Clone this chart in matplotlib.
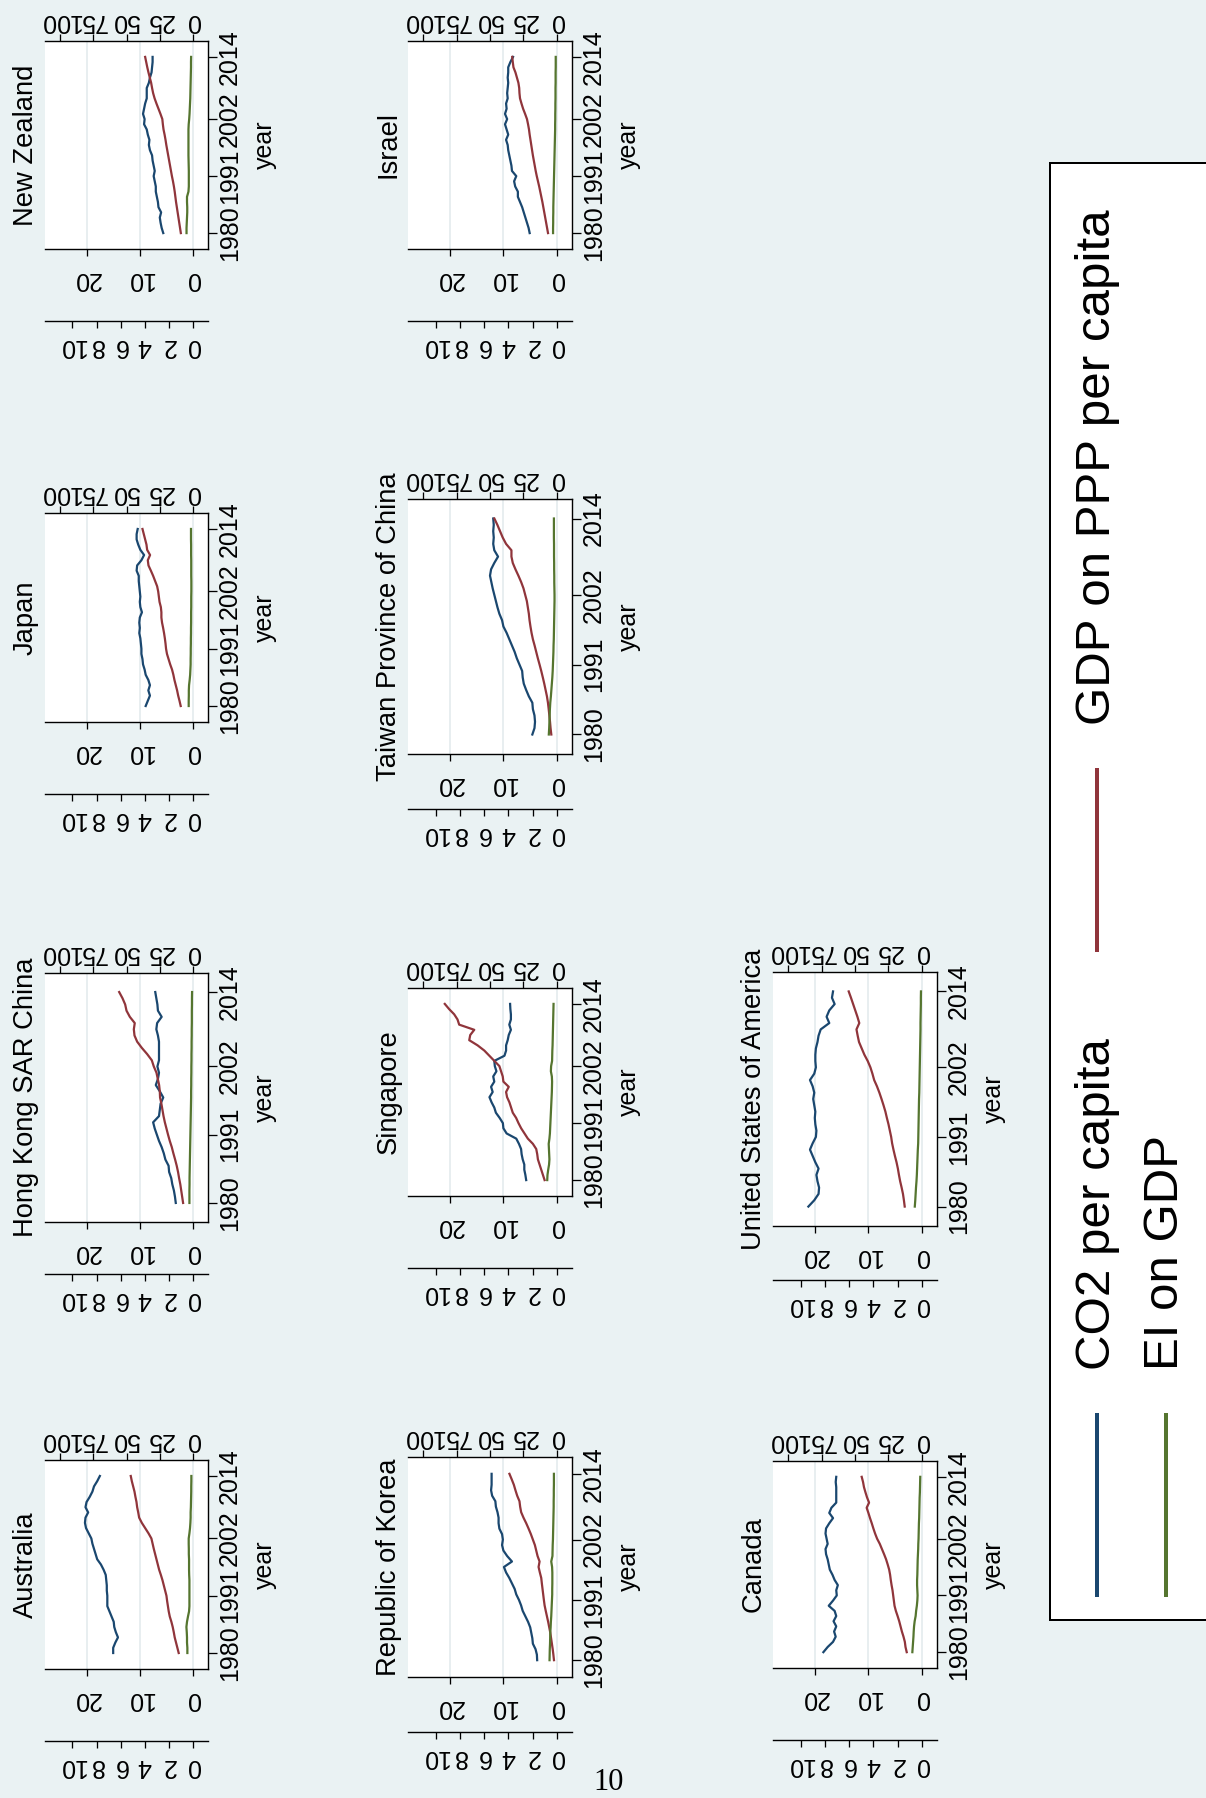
import matplotlib
matplotlib.use('Agg')
import matplotlib.pyplot as plt
from matplotlib.patches import Rectangle

W, H, DPI = 1206, 1798, 100
PX = 72.0 / DPI   # points per pixel

years = list(range(1980, 2015))
year_ticks = [1980, 1991, 2002, 2014]
co2_ticks = [0, 10, 20]
gdp_ticks = [0, 25, 50, 75, 100]
ei_ticks = [0, 2, 4, 6, 8, 10]

# ---- data, 1980..2014 ----
co2_australia = [15.0, 15.0, 14.6, 14.1, 14.5, 14.8, 14.9, 15.3, 15.7, 16.1, 16.1, 16.1, 16.2, 16.2, 16.3, 16.4, 16.8, 17.3, 18.0, 18.3,
                 18.6, 18.9, 19.1, 19.6, 20.1, 20.3, 20.2, 19.7, 20.2, 20.0, 19.4, 18.9, 18.6, 18.0, 17.5]
gdp_australia = [10.8, 11.8, 12.8, 13.8, 14.5, 15.3, 16.3, 17.5, 18.3, 18.9, 19.5, 20.0, 21.0, 22.0, 23.0, 24.2, 25.5, 26.5, 27.5, 28.5,
                 29.5, 30.4, 31.3, 33.5, 36.0, 38.5, 40.5, 41.2, 42.0, 42.5, 43.3, 44.0, 45.0, 46.0, 46.8]
ei_australia = [0.47, 0.47, 0.5, 0.5, 0.52, 0.55, 0.5, 0.42, 0.33, 0.3, 0.3, 0.3, 0.3, 0.3, 0.3, 0.32, 0.33, 0.33, 0.33, 0.35,
                0.35, 0.36, 0.36, 0.3, 0.25, 0.22, 0.2, 0.2, 0.18, 0.17, 0.16, 0.15, 0.15, 0.14, 0.14]

co2_hongkong = [3.25, 3.4, 3.6, 3.9, 4.1, 4.5, 4.6, 5.2, 5.5, 5.9, 6.4, 6.8, 7.2, 7.5, 6.4, 6.25, 6.1, 5.6, 6.25, 7.0,
                6.6, 6.4, 6.7, 6.4, 6.4, 6.4, 6.4, 6.6, 6.9, 6.75, 5.9, 6.6, 6.7, 6.9, 7.1]
gdp_hongkong = [7.5, 8.2, 8.9, 9.6, 10.5, 11.3, 12.3, 13.5, 14.8, 16.0, 17.5, 18.8, 20.0, 21.2, 22.2, 23.0, 23.8, 24.8, 25.0, 25.5,
                26.5, 27.5, 29.5, 31.0, 34.5, 38.5, 42.0, 44.0, 44.5, 43.8, 47.5, 50.0, 51.0, 53.0, 55.5]
ei_hongkong = [0.3, 0.3, 0.3, 0.29, 0.29, 0.28, 0.27, 0.26, 0.25, 0.24, 0.23, 0.22, 0.21, 0.2, 0.19, 0.18, 0.17, 0.16, 0.16, 0.15,
               0.15, 0.14, 0.14, 0.13, 0.13, 0.12, 0.12, 0.11, 0.11, 0.1, 0.1, 0.1, 0.09, 0.09, 0.08]

co2_japan = [8.9, 8.5, 8.1, 8.4, 8.1, 8.4, 8.9, 9.1, 9.4, 9.5, 9.7, 9.7, 9.8, 9.9, 10.1, 10.0, 10.1, 10.0, 9.6, 9.9,
             10.0, 9.9, 10.0, 10.1, 10.2, 10.2, 10.6, 10.5, 9.7, 9.2, 9.9, 10.3, 10.6, 10.6, 10.4]
gdp_japan = [9.3, 10.2, 11.2, 12.0, 13.0, 14.0, 14.8, 15.8, 17.2, 18.4, 19.6, 20.3, 20.7, 21.2, 21.8, 22.5, 23.3, 23.8, 23.8, 24.2,
             25.2, 25.7, 26.2, 27.0, 28.5, 30.0, 31.7, 33.5, 34.0, 32.3, 34.5, 35.0, 36.0, 37.0, 38.0]
ei_japan = [0.36, 0.36, 0.35, 0.35, 0.33, 0.28, 0.24, 0.22, 0.2, 0.2, 0.19, 0.19, 0.18, 0.18, 0.17, 0.17, 0.16, 0.16, 0.16, 0.15,
            0.15, 0.15, 0.14, 0.14, 0.14, 0.15, 0.15, 0.15, 0.15, 0.16, 0.16, 0.16, 0.17, 0.17, 0.17]

co2_nz = [5.6, 5.9, 6.1, 6.25, 6.0, 6.5, 6.6, 6.8, 7.0, 7.0, 7.2, 7.4, 7.2, 7.4, 7.6, 7.7, 8.1, 8.3, 8.2, 8.5,
          8.7, 9.2, 9.1, 9.4, 9.2, 9.0, 8.7, 8.7, 8.7, 8.3, 8.1, 7.8, 7.7, 7.6, 7.6]
gdp_nz = [9.2, 9.8, 10.4, 11.0, 11.6, 12.2, 12.8, 13.3, 13.8, 14.4, 15.1, 15.9, 16.6, 17.3, 18.0, 18.7, 19.4, 20.1, 20.7, 21.4,
          22.2, 22.7, 23.1, 24.5, 26.0, 27.5, 28.9, 30.0, 30.8, 31.5, 32.5, 33.5, 34.4, 35.2, 36.0]
ei_nz = [0.54, 0.54, 0.52, 0.5, 0.48, 0.48, 0.5, 0.5, 0.38, 0.35, 0.35, 0.35, 0.35, 0.36, 0.37, 0.38, 0.38, 0.38, 0.38, 0.38,
         0.38, 0.36, 0.32, 0.29, 0.27, 0.25, 0.23, 0.22, 0.21, 0.2, 0.19, 0.18, 0.17, 0.17, 0.16]

co2_korea = [3.7, 3.75, 4.0, 4.5, 4.6, 4.8, 5.0, 5.4, 5.9, 6.4, 6.7, 7.1, 7.6, 7.9, 8.4, 8.9, 9.5, 9.9, 8.4, 9.3,
             10.0, 10.25, 10.1, 10.25, 10.75, 10.9, 10.9, 11.1, 11.4, 11.5, 12.1, 12.3, 12.2, 12.2, 12.2]
gdp_korea = [2.25, 2.7, 3.2, 3.8, 4.4, 5.0, 5.8, 6.6, 7.5, 8.4, 9.25, 9.8, 10.3, 10.8, 11.3, 11.75, 12.8, 13.75, 13.0, 14.5,
             15.5, 16.5, 18.0, 19.5, 21.2, 23.0, 25.0, 26.75, 27.5, 28.0, 29.7, 31.0, 32.2, 33.8, 35.5]
ei_korea = [0.61, 0.6, 0.59, 0.57, 0.56, 0.55, 0.52, 0.5, 0.47, 0.45, 0.43, 0.41, 0.39, 0.39, 0.38, 0.38, 0.38, 0.4, 0.47, 0.37,
            0.36, 0.35, 0.33, 0.32, 0.31, 0.3, 0.29, 0.28, 0.27, 0.27, 0.26, 0.26, 0.25, 0.25, 0.25]

co2_singapore = [5.75, 5.9, 6.1, 6.1, 6.4, 6.6, 6.7, 7.1, 7.6, 9.4, 10.0, 10.1, 10.7, 11.4, 11.7, 12.2, 12.6, 12.0, 12.3, 11.7,
                 11.9, 11.3, 11.6, 11.7, 9.8, 9.5, 9.5, 9.2, 9.0, 8.6, 8.9, 8.6, 8.6, 8.7, 8.75]
gdp_singapore = [9.25, 10.5, 11.75, 13.0, 14.25, 14.75, 15.5, 18.0, 21.75, 24.25, 26.75, 28.75, 30.5, 33.0, 34.25, 35.5, 37.25, 38.0, 36.0, 40.0,
                 40.5, 41.75, 43.0, 46.75, 50.5, 54.25, 59.25, 65.5, 64.75, 61.75, 73.0, 74.25, 76.75, 80.5, 83.75]
ei_singapore = [0.8, 0.78, 0.72, 0.65, 0.62, 0.64, 0.66, 0.68, 0.62, 0.58, 0.56, 0.54, 0.52, 0.5, 0.48, 0.46, 0.44, 0.42, 0.41, 0.4,
                0.42, 0.5, 0.48, 0.4, 0.39, 0.38, 0.36, 0.35, 0.34, 0.33, 0.32, 0.31, 0.3, 0.29, 0.28]

co2_usa = [21.2, 20.1, 19.3, 19.2, 19.5, 19.7, 19.3, 19.9, 20.4, 20.9, 20.4, 19.8, 19.7, 19.9, 20.0, 19.9, 20.1, 20.3, 20.1, 20.4,
           20.9, 20.1, 19.8, 19.9, 19.9, 19.8, 19.5, 19.3, 18.9, 17.3, 17.8, 17.3, 16.3, 16.8, 16.6]
gdp_usa = [12.9, 13.5, 14.2, 15.2, 16.3, 17.2, 18.0, 19.0, 20.2, 21.3, 22.3, 23.0, 24.0, 25.0, 26.2, 27.3, 28.7, 30.2, 31.8, 33.6,
           35.7, 37.0, 38.5, 40.5, 43.0, 45.0, 47.0, 48.0, 48.9, 46.8, 48.2, 49.8, 51.4, 53.0, 54.7]
ei_usa = [0.59, 0.55, 0.52, 0.49, 0.45, 0.42, 0.4, 0.38, 0.36, 0.34, 0.31, 0.3, 0.29, 0.28, 0.27, 0.26, 0.25, 0.24, 0.22, 0.21,
          0.2, 0.19, 0.18, 0.17, 0.16, 0.15, 0.14, 0.13, 0.12, 0.12, 0.11, 0.1, 0.09, 0.09, 0.08]

co2_israel = [5.1, 5.3, 5.6, 5.9, 6.2, 6.5, 6.9, 7.3, 7.3, 7.8, 8.0, 7.6, 8.4, 8.5, 8.7, 8.9, 9.1, 9.2, 9.5, 9.1,
              9.4, 9.7, 9.3, 9.7, 9.4, 9.5, 9.2, 9.3, 9.2, 9.1, 9.2, 9.1, 9.1, 8.7, 8.2]
gdp_israel = [6.7, 7.4, 8.1, 8.8, 9.5, 10.2, 10.9, 11.7, 12.5, 13.3, 14.2, 15.1, 15.9, 16.6, 17.3, 18.0, 18.6, 19.2, 19.8, 20.4,
              20.9, 21.6, 22.4, 23.8, 25.3, 26.5, 27.6, 28.0, 28.2, 28.8, 29.9, 31.0, 32.5, 33.0, 33.4]
ei_israel = [0.32, 0.32, 0.31, 0.31, 0.3, 0.3, 0.29, 0.28, 0.27, 0.26, 0.25, 0.24, 0.23, 0.22, 0.21, 0.2, 0.19, 0.18, 0.17, 0.16,
             0.15, 0.15, 0.14, 0.14, 0.13, 0.13, 0.12, 0.12, 0.12, 0.11, 0.11, 0.11, 0.1, 0.1, 0.1]

co2_taiwan = [4.6, 4.2, 4.1, 4.2, 4.5, 4.6, 5.25, 5.75, 6.2, 6.4, 6.5, 7.0, 7.5, 7.9, 8.4, 8.9, 9.4, 10.0, 10.25, 10.75,
              11.1, 11.4, 11.7, 12.0, 12.25, 12.5, 12.3, 11.7, 11.0, 11.7, 11.9, 11.8, 11.9, 11.8, 11.9]
gdp_taiwan = [4.25, 4.8, 5.2, 5.7, 6.2, 6.75, 7.5, 8.5, 9.5, 10.6, 11.75, 13.0, 14.3, 15.5, 16.7, 18.0, 19.0, 19.8, 20.5, 21.0,
              21.75, 22.5, 23.75, 25.0, 26.75, 28.8, 31.0, 33.0, 34.0, 34.0, 38.0, 40.5, 42.5, 44.5, 46.75]
ei_taiwan = [0.67, 0.64, 0.62, 0.6, 0.58, 0.55, 0.5, 0.46, 0.42, 0.38, 0.35, 0.33, 0.31, 0.29, 0.28, 0.26, 0.25, 0.24, 0.23, 0.22,
             0.21, 0.2, 0.2, 0.21, 0.22, 0.22, 0.23, 0.23, 0.24, 0.24, 0.24, 0.25, 0.25, 0.25, 0.25]

co2_canada = [18.4, 17.6, 16.6, 16.1, 16.4, 16.0, 16.5, 16.0, 16.3, 17.4, 16.6, 15.9, 16.0, 15.7, 16.3, 16.7, 17.2, 17.4, 17.6, 17.9,
              18.0, 17.6, 17.8, 18.0, 17.9, 17.3, 16.6, 17.3, 16.9, 16.0, 16.0, 16.0, 16.0, 16.1, 16.0]
gdp_canada = [11.4, 12.3, 12.8, 13.8, 15.0, 16.0, 17.0, 18.2, 19.5, 20.5, 21.0, 21.5, 22.0, 22.7, 23.3, 23.8, 24.5, 25.6, 26.8, 28.3,
              29.9, 31.5, 33.5, 35.0, 36.3, 37.5, 38.8, 40.0, 41.3, 39.5, 41.0, 42.2, 43.3, 44.0, 45.0]
ei_canada = [0.79, 0.76, 0.73, 0.7, 0.68, 0.65, 0.6, 0.52, 0.48, 0.42, 0.38, 0.36, 0.38, 0.4, 0.4, 0.38, 0.37, 0.36, 0.35, 0.33,
             0.31, 0.3, 0.28, 0.27, 0.26, 0.25, 0.23, 0.22, 0.21, 0.2, 0.19, 0.17, 0.16, 0.15, 0.14]

NAVY, MAROON, FOREST = '#1a476f', '#90353b', '#55752f'
BG, GRIDC = '#eaf2f3', '#e1e9ec'

plt.rcParams['font.family'] = ['Liberation Sans', 'DejaVu Sans']
fig = plt.figure(figsize=(W / DPI, H / DPI), dpi=DPI, facecolor=BG)

TS = 18      # tick label size
LW = 1.6     # series line width


def panel(name, co2, gdp, ei, box, ei_off):
    # the whole graph is turned 90 degrees: years run upward, values grow to the left
    l, t, r, b = box
    ax = fig.add_axes([l / W, 1 - b / H, (r - l) / W, (b - t) / H])
    ax.set_facecolor('white')
    ax.plot(co2, years, color=NAVY, lw=LW)
    ax.set_xlim(27.8, -2.8)
    ax.set_ylim(1976.93, 2017.07)
    ax.set_xticks(co2_ticks, [str(v) for v in co2_ticks])
    ax.grid(axis='x', color=GRIDC, lw=1.1)
    ax.tick_params(axis='x', length=7 * PX, width=1.3 * PX, pad=11 * PX, labelsize=TS, labelrotation=180)
    ax.yaxis.tick_right()
    ax.set_yticks(year_ticks, [str(v) for v in year_ticks], rotation=90, va='center')
    ax.tick_params(axis='y', length=9 * PX, width=1.3 * PX, pad=0.5, labelsize=TS)
    ax.yaxis.set_label_position('right')
    ax.set_ylabel('year', fontsize=TS, labelpad=8)
    for s in ('top', 'left'):
        ax.spines[s].set_visible(False)
    for s in ('right', 'bottom'):
        ax.spines[s].set_linewidth(1.4 * PX)

    ax2 = ax.twiny()
    ax2.plot(gdp, years, color=MAROON, lw=LW)
    ax2.set_xlim(111.2, -11.2)
    ax2.set_xticks(gdp_ticks, [str(v) for v in gdp_ticks])
    ax2.tick_params(axis='x', length=7 * PX, width=1.3 * PX, pad=1 * PX, labelsize=TS, labelrotation=180)
    for s in ('bottom', 'left', 'right'):
        ax2.spines[s].set_visible(False)
    ax2.spines['top'].set_linewidth(1.4 * PX)

    ax3 = ax.twiny()
    ax3.plot(ei, years, color=FOREST, lw=LW)
    ax3.set_xlim(12.27, -1.24)
    ax3.xaxis.tick_bottom()
    ax3.set_xticks(ei_ticks, [str(v) for v in ei_ticks])
    ax3.tick_params(axis='x', length=7 * PX, width=1.3 * PX, pad=6 * PX, labelsize=TS, labelrotation=180)
    for s in ('top', 'left', 'right'):
        ax3.spines[s].set_visible(False)
    ax3.spines['bottom'].set_position(('outward', ei_off * PX))
    ax3.spines['bottom'].set_linewidth(1.4 * PX)

    fig.text((l - 12) / W, 1 - ((t + b) / 2) / H, name, rotation=90, rotation_mode='anchor',
             ha='center', va='baseline', fontsize=19.7)


panel('New Zealand', co2_nz, gdp_nz, ei_nz, (45, 41, 208, 249), 72)
panel('Japan', co2_japan, gdp_japan, ei_japan, (45, 513, 208, 722), 72)
panel('Hong Kong SAR China', co2_hongkong, gdp_hongkong, ei_hongkong, (45, 973, 208, 1222), 52)
panel('Australia', co2_australia, gdp_australia, ei_australia, (45, 1460, 208, 1669), 72)
panel('Israel', co2_israel, gdp_israel, ei_israel, (408, 41, 572, 249), 72)
panel('Taiwan Province of China', co2_taiwan, gdp_taiwan, ei_taiwan, (408, 499, 572, 754), 55)
panel('Singapore', co2_singapore, gdp_singapore, ei_singapore, (408, 988, 572, 1196), 72)
panel('Republic of Korea', co2_korea, gdp_korea, ei_korea, (408, 1457, 572, 1677), 55)
panel('United States of America', co2_usa, gdp_usa, ei_usa, (773, 972, 937, 1226), 54)
panel('Canada', co2_canada, gdp_canada, ei_canada, (773, 1461, 937, 1668), 72)

# legend (turned with the graph) and page number, in pixel coordinates
ov = fig.add_axes([0, 0, 1, 1])
ov.set_xlim(0, W)
ov.set_ylim(H, 0)
ov.axis('off')
ov.add_patch(Rectangle((1050, 163), 200, 1457, facecolor='white', edgecolor='black', lw=2 * PX))
ov.plot([1097, 1097], [1413, 1597], color=NAVY, lw=4 * PX, solid_capstyle='butt')
ov.plot([1166, 1166], [1413, 1597], color=FOREST, lw=4 * PX, solid_capstyle='butt')
ov.plot([1097, 1097], [768, 952], color=MAROON, lw=4 * PX, solid_capstyle='butt')
ov.text(1097, 1370, 'CO2 per capita', rotation=90, rotation_mode='anchor', ha='left', va='center', fontsize=35.5)
ov.text(1166, 1370, 'EI on GDP', rotation=90, rotation_mode='anchor', ha='left', va='center', fontsize=35.5)
ov.text(1097, 725, 'GDP on PPP per capita', rotation=90, rotation_mode='anchor', ha='left', va='center', fontsize=35.5)
ov.text(609, 1783, '10', family=['Liberation Serif', 'DejaVu Serif'], fontsize=22, ha='center', va='center')

fig.savefig('out.png', dpi=DPI, facecolor=BG)
